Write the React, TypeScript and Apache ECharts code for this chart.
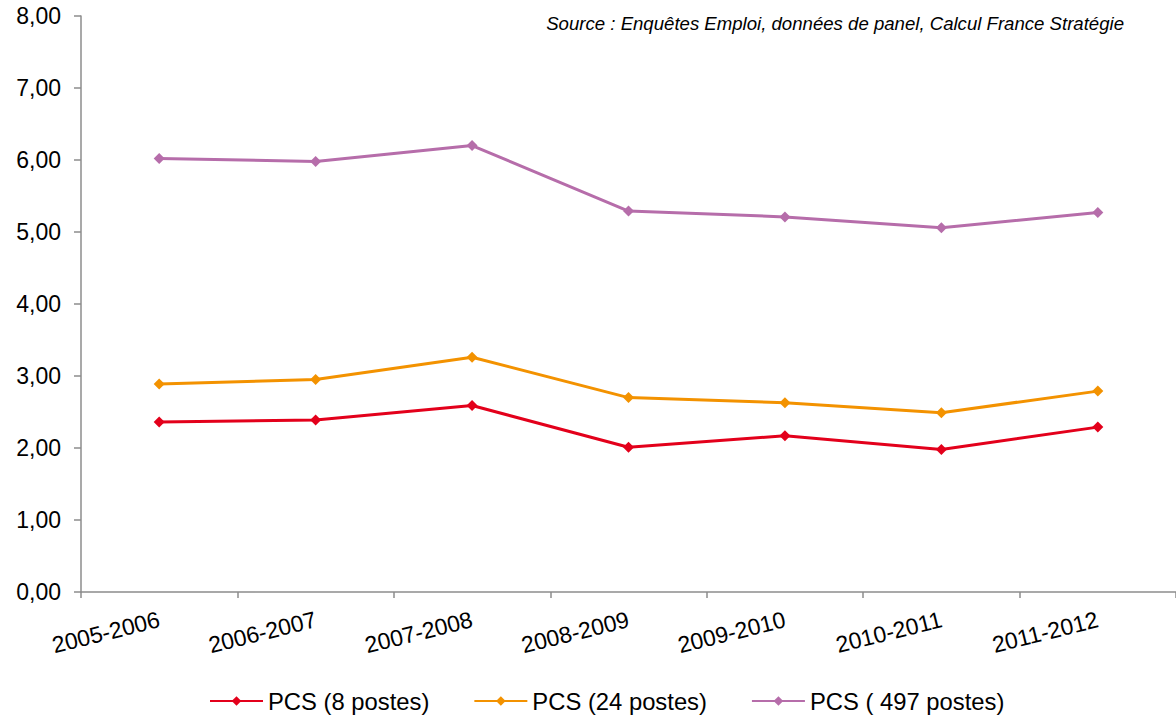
import React, { useEffect, useRef } from "react";
import * as echarts from "echarts";

const categories = ["2005-2006", "2006-2007", "2007-2008", "2008-2009", "2009-2010", "2010-2011", "2011-2012"];
const pcs8 = [2.36, 2.39, 2.59, 2.01, 2.17, 1.98, 2.29];
const pcs24 = [2.89, 2.95, 3.26, 2.70, 2.63, 2.49, 2.79];
const pcs497 = [6.02, 5.98, 6.20, 5.29, 5.21, 5.06, 5.27];
const seriesNames = ["PCS (8 postes)", "PCS (24 postes)", "PCS ( 497 postes)"];
const sourceText = "Source : Enquêtes Emploi, données de panel, Calcul France Stratégie";

const colors = ["#E3001B", "#F39200", "#B66DAA"];
const FONT = "Liberation Sans, Arial, sans-serif";

export default function App() {
  const ref = useRef<HTMLDivElement>(null);
  useEffect(() => {
    if (!ref.current) return;
    const chart = echarts.init(ref.current, null, { renderer: "svg" });
    const mk = (name: string, data: number[], color: string) => ({
      name,
      type: "line",
      data,
      symbol: "diamond",
      symbolSize: 11,
      lineStyle: { width: 3, color },
      itemStyle: { color },
    });
    chart.setOption({
      animation: false,
      backgroundColor: "#ffffff",
      textStyle: { fontFamily: FONT },
      grid: { left: 81, right: 0, top: 16, bottom: 123, containLabel: false },
      graphic: [
        {
          type: "text",
          right: 52,
          top: 14,
          style: {
            text: sourceText,
            font: "italic 18.6px " + FONT,
            fill: "#000",
          },
        },
      ],
      legend: {
        left: 204,
        top: 684,
        itemWidth: 53,
        itemHeight: 12,
        itemGap: 44,
        textStyle: { fontSize: 23.8, color: "#000", fontFamily: FONT },
        data: seriesNames,
      },
      xAxis: {
        type: "category",
        data: categories,
        boundaryGap: true,
        axisLine: { lineStyle: { color: "#8C8C8C", width: 1.5 } },
        axisTick: { show: true, length: 6, alignWithLabel: false, lineStyle: { color: "#8C8C8C", width: 1.5 } },
        axisLabel: { rotate: 14, fontSize: 23, color: "#000", margin: 27, fontFamily: FONT, interval: 0 },
        splitLine: { show: false },
      },
      yAxis: {
        type: "value",
        min: 0,
        max: 8,
        interval: 1,
        axisLine: { show: true, lineStyle: { color: "#8C8C8C", width: 1.5 } },
        axisTick: { show: true, length: 7, lineStyle: { color: "#8C8C8C", width: 1.5 } },
        axisLabel: {
          fontSize: 23,
          color: "#000",
          margin: 20,
          fontFamily: FONT,
          formatter: (v: number) => v.toFixed(2).replace(".", ","),
        },
        splitLine: { show: false },
      },
      series: [
        mk(seriesNames[0], pcs8, colors[0]),
        mk(seriesNames[1], pcs24, colors[1]),
        mk(seriesNames[2], pcs497, colors[2]),
      ],
    });
    return () => chart.dispose();
  }, []);
  return (
    <div
      ref={ref}
      style={{ position: "fixed", left: 0, top: 0, width: 1176, height: 715, background: "#fff" }}
    />
  );
}
